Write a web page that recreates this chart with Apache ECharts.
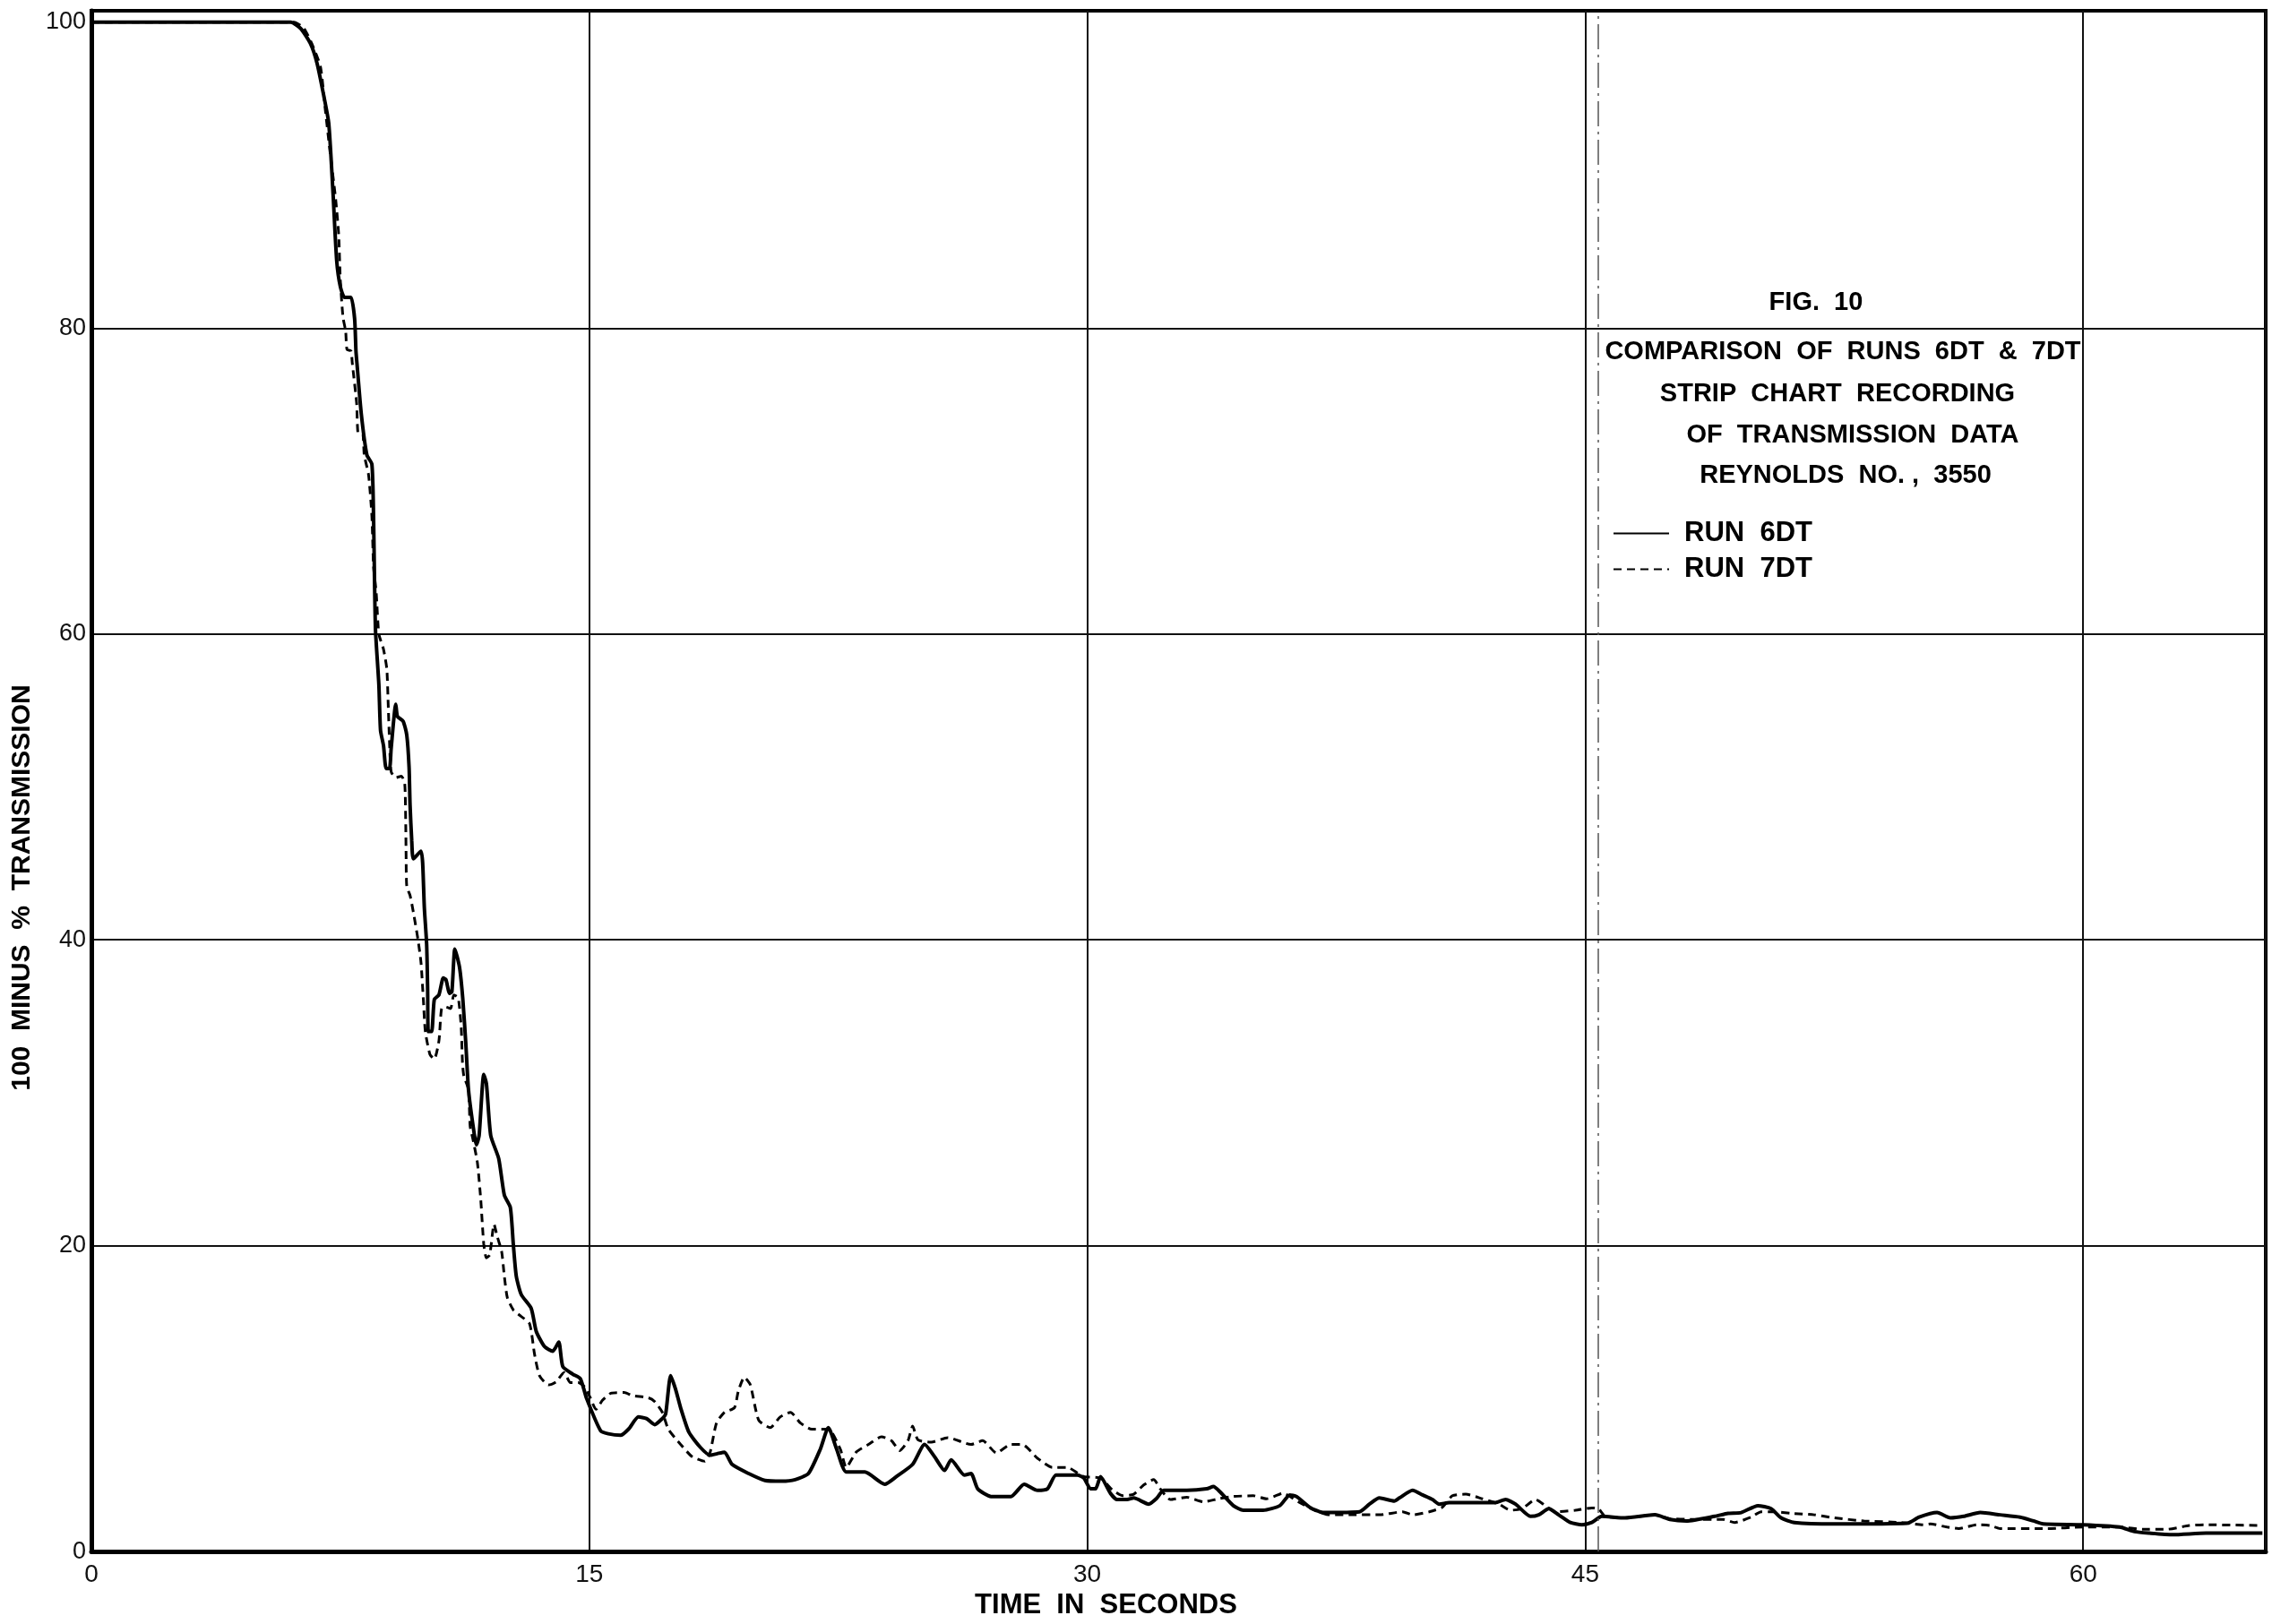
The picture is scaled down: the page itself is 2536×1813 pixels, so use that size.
<!DOCTYPE html>
<html>
<head>
<meta charset="utf-8">
<script src="https://cdn.jsdelivr.net/npm/echarts@6/dist/echarts.min.js"></script>
<style>
html,body{margin:0;padding:0;background:#fff;}
#chart{width:2536px;height:1813px;}
</style>
</head>
<body>
<div id="chart"></div>
<script>
// ---- data ----
const xTicks = [0, 15, 30, 45, 60];
const yTicks = [0, 20, 40, 60, 80, 100];

const run6Time = [0,6.0,6.3,6.6,6.8,7.0,7.15,7.28,7.39,7.5,7.63,7.82,7.93,7.97,8.0,8.13,8.3,8.45,8.5,8.53,8.56,8.66,8.71,8.8,8.88,8.98,9.03,9.17,9.22,9.39,9.5,9.57,9.6,9.65,9.7,9.93,9.98,10.03,10.1,10.13,10.15,10.25,10.33,10.47,10.6,10.68,10.79,10.86,10.95,11.09,11.19,11.28,11.36,11.5,11.6,11.68,11.82,11.9,12.03,12.27,12.44,12.62,12.71,12.8,12.95,13.25,13.4,13.65,13.9,14.08,14.2,14.5,14.73,14.92,15.34,15.57,15.94,16.18,16.48,16.72,16.97,17.2,17.3,17.45,17.6,17.75,18.0,18.35,18.64,18.85,19.07,19.3,19.8,20.29,20.8,21.2,21.6,21.96,22.2,22.45,22.74,23.3,23.9,24.25,24.74,25.1,25.4,25.7,25.9,26.3,26.5,26.7,27.1,27.7,28.1,28.5,28.8,29.06,29.7,29.9,30.1,30.25,30.4,30.7,30.9,31.2,31.4,31.85,32.1,32.3,33.0,33.6,33.8,34.0,34.4,34.7,35.3,35.8,36.1,36.3,36.7,37.1,38.2,38.5,38.8,39.25,39.4,39.8,40.1,40.4,40.6,40.9,42.3,42.6,42.9,43.35,43.6,43.9,44.2,44.55,44.9,45.2,45.5,46.2,47.1,47.55,48.05,48.9,49.3,49.7,50.2,50.6,50.9,51.3,52.5,54.7,55.06,55.6,56.0,56.4,56.9,57.5,58.1,58.5,58.8,60.0,61.1,61.55,62.0,62.7,63.7,65.4];
const run6Value = [100,100,99.6,98.6,97.3,95.2,93.4,88.8,84.4,82.7,82.0,82.0,80.6,78.5,77.7,74.4,71.7,71.1,67.7,63.4,60.2,56.7,53.7,52.7,51.2,51.2,52.5,55.4,54.6,54.3,53.4,51.3,48.8,46.5,45.3,45.8,45.0,42.1,39.7,36.7,34.0,34.0,36.1,36.4,37.5,37.4,36.5,36.6,39.4,38.2,36.1,33.2,30.2,27.8,26.6,27.2,31.2,30.6,27.2,25.7,23.3,22.5,20.1,18.0,16.8,15.9,14.4,13.4,13.1,13.7,12.1,11.6,11.3,10.0,7.9,7.7,7.6,8.0,8.8,8.7,8.3,8.7,9.0,11.5,10.6,9.4,7.8,6.8,6.3,6.4,6.5,5.7,5.1,4.65,4.6,4.7,5.1,6.7,8.1,6.7,5.2,5.2,4.4,4.9,5.7,7.0,6.2,5.3,6.0,5.0,5.1,4.1,3.6,3.6,4.4,4.0,4.1,5.0,5.0,4.8,4.1,4.1,4.9,3.8,3.4,3.4,3.5,3.1,3.5,4.0,4.0,4.1,4.25,3.9,3.0,2.7,2.7,3.0,3.7,3.6,2.9,2.55,2.6,3.1,3.5,3.3,3.5,4.0,3.7,3.4,3.1,3.2,3.2,3.4,3.1,2.3,2.4,2.8,2.4,1.9,1.75,1.9,2.3,2.2,2.4,2.1,2.0,2.3,2.5,2.55,3.0,2.8,2.2,1.9,1.8,1.85,2.25,2.55,2.2,2.3,2.55,2.4,2.25,2.0,1.8,1.75,1.6,1.3,1.2,1.1,1.2,1.2];

const run7Time = [0,6.1,6.4,6.64,6.9,7.04,7.18,7.36,7.45,7.5,7.58,7.66,7.7,7.82,7.86,7.99,8.04,8.17,8.22,8.35,8.45,8.5,8.58,8.66,8.8,8.9,8.94,8.98,9.03,9.17,9.34,9.44,9.47,9.48,9.5,9.6,9.7,9.84,9.93,10.0,10.06,10.2,10.33,10.47,10.55,10.68,10.82,10.92,11.05,11.14,11.18,11.22,11.36,11.41,11.5,11.63,11.73,11.82,11.9,12.0,12.13,12.22,12.36,12.44,12.53,12.71,12.93,13.2,13.35,13.5,13.77,14.0,14.24,14.43,14.67,14.86,15.03,15.2,15.4,15.65,16.05,16.3,16.78,16.97,17.2,17.38,17.75,18.1,18.48,18.64,18.83,19.07,19.37,19.49,19.67,19.85,20.1,20.45,20.75,21.06,21.36,21.7,22.2,22.56,22.74,23.04,23.41,23.8,24.1,24.35,24.6,24.74,24.9,25.3,25.8,26.5,26.85,27.26,27.7,28.04,28.5,28.95,29.4,29.73,29.9,30.4,30.75,31.07,31.4,31.7,32.0,32.2,32.5,33.0,33.5,33.95,34.4,35.0,35.4,35.9,36.4,36.85,37.3,38.0,38.8,39.5,39.8,40.3,40.7,41.0,41.4,41.9,42.4,42.75,43.1,43.5,43.8,44.1,44.7,45.2,45.4,45.6,46.2,47.1,47.55,48.3,49.15,49.5,50.0,50.3,50.7,51.2,51.9,52.5,53.4,54.5,55.2,55.4,55.9,56.25,56.8,57.2,57.5,58.9,60.0,61.1,61.8,62.5,63.2,63.7,65.4];
const run7Value = [100,100,99.6,98.6,97.1,94.4,91.7,88.4,86.1,83.1,80.7,79.8,78.6,78.5,77.7,75.1,73.1,73.1,71.7,70.4,67.7,64.4,62.7,60.0,59.0,57.7,55.5,53.0,51.0,50.6,50.7,50.2,47.5,45.6,43.5,42.9,41.8,40.0,38.5,36.1,34.0,32.5,32.2,33.4,35.5,35.6,35.5,36.4,36.2,34.3,31.9,31.1,30.2,27.8,26.9,25.4,23.0,20.1,19.2,19.4,21.4,20.65,19.6,18.0,16.6,15.8,15.4,14.9,12.9,11.5,10.9,11.1,11.7,11.05,11.05,10.76,10.05,9.3,9.9,10.35,10.4,10.2,10.05,9.8,9.1,8.0,7.0,6.2,5.9,6.5,8.4,9.1,9.4,10.5,11.4,10.9,8.6,8.1,8.8,9.1,8.4,8.0,8.0,6.7,5.5,6.5,7.0,7.5,7.25,6.6,7.25,8.2,7.3,7.15,7.45,7.0,7.25,6.45,7.0,7.0,6.1,5.5,5.5,5.1,4.9,4.8,4.05,3.65,3.75,4.35,4.7,4.1,3.4,3.55,3.25,3.45,3.6,3.65,3.45,3.8,3.2,2.7,2.4,2.4,2.4,2.6,2.4,2.6,2.9,3.65,3.75,3.45,3.1,2.7,2.8,3.4,3.0,2.6,2.7,2.85,2.8,2.3,2.2,2.4,2.15,2.1,2.1,1.9,2.25,2.6,2.6,2.5,2.4,2.2,2.0,1.9,1.75,1.8,1.6,1.5,1.75,1.7,1.5,1.5,1.6,1.6,1.45,1.45,1.7,1.75,1.7];

const scanFoldTime = [45.4];

const titleLines = ['FIG.  10', 'COMPARISON  OF  RUNS  6DT  &  7DT', 'STRIP  CHART  RECORDING', 'OF  TRANSMISSION  DATA', 'REYNOLDS  NO. ,  3550'];
const seriesNames = ['RUN  6DT', 'RUN  7DT'];

// ---- chart ----
const FONT = '"Liberation Sans", Arial, sans-serif';
const pairs = (ts, vs) => ts.map((t, i) => [t, vs[i]]);

const chart = echarts.init(document.getElementById('chart'), null, {renderer: 'canvas'});

const titlePos = [[2027, 338], [2057, 393], [2051, 440], [2068, 486], [2060, 531]];
// no printed grid line at 100 (the curve itself sits there); lines at 0..80 drawn
const ySplitColors = ['#111', '#111', '#111', '#111', '#111', 'rgba(0,0,0,0)', 'rgba(0,0,0,0)'];

chart.setOption({
  backgroundColor: '#ffffff',
  animation: false,
  grid: {left: 102, right: 7, top: 12, bottom: 75, show: true, borderColor: '#000', borderWidth: 4, backgroundColor: 'transparent'},
  xAxis: {
    type: 'value', min: 0, max: 65.5, interval: 15,
    axisLine: {show: true, lineStyle: {color: '#000', width: 5}},
    axisTick: {show: false},
    splitLine: {show: true, lineStyle: {color: '#111', width: 2}},
    axisLabel: {
      margin: 12, fontSize: 28, color: '#111', fontFamily: FONT,
      formatter: v => (xTicks.indexOf(v) >= 0 ? String(v) : '')
    },
    name: 'TIME  IN  SECONDS', nameLocation: 'middle', nameGap: 42,
    nameTextStyle: {fontSize: 31, fontWeight: 'bold', color: '#000', fontFamily: FONT, padding: [0, 162, 0, 0]}
  },
  yAxis: {
    type: 'value', min: 0, max: 100.75, interval: 20,
    axisLine: {show: true, lineStyle: {color: '#000', width: 5}},
    axisTick: {show: false},
    splitLine: {show: true, lineStyle: {color: ySplitColors, width: 2}},
    axisLabel: {
      margin: 6, fontSize: 27, color: '#111', fontFamily: FONT,
      formatter: v => (yTicks.indexOf(v) >= 0 ? String(v) : '')
    },
    name: '100  MINUS  %  TRANSMISSION', nameLocation: 'middle', nameGap: 50,
    nameTextStyle: {fontSize: 30, fontWeight: 'bold', color: '#000', fontFamily: FONT, padding: [0, 238, 0, 0]}
  },
  legend: {
    orient: 'vertical', left: 1795, top: 575, itemWidth: 62, itemHeight: 14, itemGap: 9,
    itemStyle: {color: 'rgba(0,0,0,0)', borderColor: 'rgba(0,0,0,0)', borderWidth: 0},
    textStyle: {fontSize: 31, fontWeight: 'bold', color: '#000', fontFamily: FONT, padding: [0, 0, 0, 12]},
    data: seriesNames
  },
  graphic: titleLines.map((txt, i) => ({
    type: 'text', silent: true,
    style: {
      text: txt, x: titlePos[i][0], y: titlePos[i][1],
      textAlign: 'center', textVerticalAlign: 'middle',
      font: 'bold 29px ' + FONT, fill: '#000'
    }
  })),
  series: [
    {
      name: seriesNames[0], type: 'line', data: pairs(run6Time, run6Value),
      showSymbol: false, symbol: 'none', smooth: 0.2,
      lineStyle: {color: '#000', width: 4},
      itemStyle: {color: '#000'}
    },
    {
      name: seriesNames[1], type: 'line', data: pairs(run7Time, run7Value),
      showSymbol: false, symbol: 'none', smooth: 0.2,
      lineStyle: {color: '#000', width: 3, type: [9, 6]},
      itemStyle: {color: '#000'},
      markLine: {
        silent: true, symbol: 'none', label: {show: false},
        lineStyle: {color: '#555', width: 1.5, type: [28, 6, 3, 6]},
        data: scanFoldTime.map(t => ({xAxis: t}))
      }
    }
  ]
});
</script>
</body>
</html>
